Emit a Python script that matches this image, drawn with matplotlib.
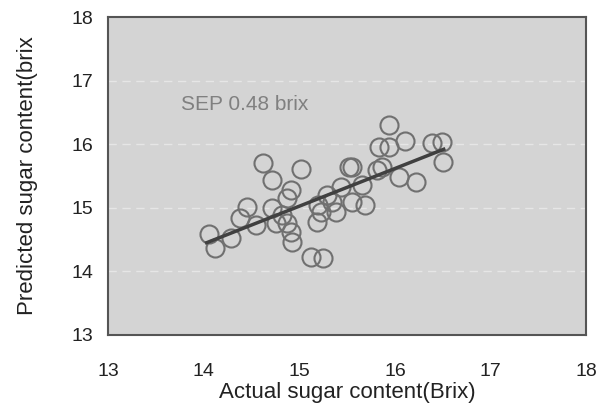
import matplotlib
matplotlib.use("Agg")
import matplotlib.pyplot as plt

# actual vs predicted sugar content
actual = [14.05, 14.12, 14.28, 14.38, 14.45, 14.55, 14.62, 14.71, 14.71, 14.76,
          14.87, 14.91, 14.87, 14.91, 14.92, 15.02, 15.12, 15.25, 15.94, 15.83,
          15.94, 16.10, 16.39, 16.49, 16.50, 15.52, 15.55, 15.81, 15.86, 16.04,
          16.22, 15.44, 15.65, 15.29, 15.34, 15.20, 15.23, 15.38, 15.18, 15.55,
          15.69, 14.82]
predicted = [14.58, 14.37, 14.52, 14.84, 15.01, 14.73, 15.70, 15.44, 15.00, 14.76,
             15.15, 15.28, 14.76, 14.62, 14.46, 15.61, 14.23, 14.21, 16.30, 15.96,
             15.96, 16.05, 16.02, 16.03, 15.72, 15.64, 15.64, 15.59, 15.64, 15.48,
             15.40, 15.33, 15.36, 15.20, 15.09, 15.04, 14.93, 14.93, 14.78, 15.09,
             15.04, 14.88]

fit_x = [14.03, 16.51]
fit_y = [14.45, 15.92]

ticks = [13, 14, 15, 16, 17, 18]

plt.rcParams['font.family'] = ['Liberation Sans', 'DejaVu Sans']

fig = plt.figure(figsize=(6.08, 4.17), dpi=100)
ax = fig.add_axes([0.178, 0.197, 0.786, 0.762])
ax.set_facecolor('#d4d4d4')

ax.set_xlim(13, 18)
ax.set_ylim(13, 18)
ax.set_xticks(ticks)
ax.set_yticks(ticks)
ax.tick_params(length=0, labelsize=14, colors='#222222')
ax.tick_params(axis='x', pad=20)
ax.tick_params(axis='y', pad=11)

for yy in [14, 15, 16, 17]:
    ax.axhline(yy, color='#e6e6e6', lw=1, ls=(0, (6, 4)), zorder=1)

ax.plot(actual, predicted, 'o', ms=13, mfc='none', mec='#707070', mew=1.5, zorder=2)
ax.plot(fit_x, fit_y, color='#404040', lw=2.5, zorder=3)

ax.text(13.76, 16.63, 'SEP 0.48 brix', fontsize=15, color='#808080', va='center')

for s in ax.spines.values():
    s.set_color('#555555')
    s.set_linewidth(1.5)

ax.set_xlabel('Actual sugar content(Brix)', fontsize=16, color='#222222', labelpad=2)
ax.set_ylabel('Predicted sugar content(brix', fontsize=16, color='#222222', labelpad=24)

fig.savefig('out.png', dpi=100)
